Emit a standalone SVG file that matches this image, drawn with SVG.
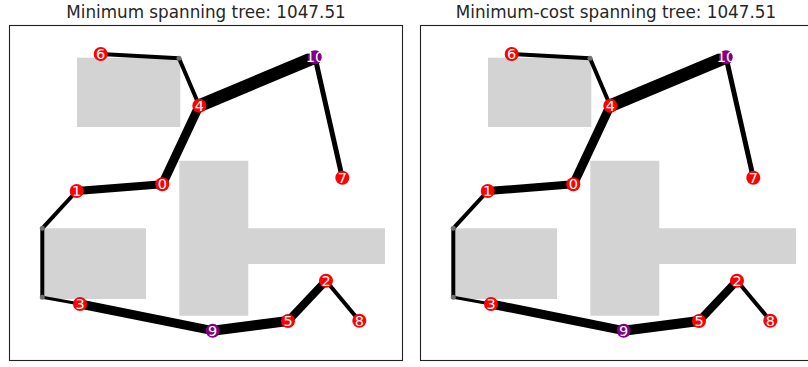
<svg xmlns="http://www.w3.org/2000/svg" width="808" height="367" viewBox="0 0 808 367">
  <style>
    .title { font-family: "DejaVu Sans", sans-serif; font-size: 16.8px; fill: #262626; text-anchor: middle; }
    .frame { fill: none; stroke: #222; stroke-width: 1.1; }
    .block { fill: #d3d3d3; stroke: none; }
    .edge { stroke: #000; fill: none; stroke-linecap: butt; }
    .node circle { stroke: none; }
    .red circle { fill: #ff0000; }
    .purple circle { fill: #800080; }
    .node text { font-family: "DejaVu Sans", sans-serif; font-size: 14.5px; fill: #fff; text-anchor: middle; dominant-baseline: central; }
    .way { fill: #707070; }
  </style>
  <defs>
    <clipPath id="clip-page"><rect x="0" y="0" width="808" height="367"/></clipPath>
  </defs>

  <!-- Left panel -->
  <g id="panel-left">
    <text class="title" x="206" y="18">Minimum spanning tree: 1047.51</text>
    <rect class="frame" x="9.5" y="25.5" width="393" height="335"/>
    <g id="obstacles-left">
      <rect class="block" x="77" y="57.7" width="103.3" height="69.3"/>
      <path class="block" d="M179.3 160.7 H248.3 V228.3 H385 V264 H248.3 V315.7 H179.3 Z"/>
      <rect class="block" x="42.3" y="228.3" width="103.7" height="70.7"/>
    </g>
    <g id="edges-left">
      <line class="edge" x1="100.7" y1="54" x2="179" y2="58.3" stroke-width="4"/>
      <line class="edge" x1="179" y1="58.3" x2="199.3" y2="105.7" stroke-width="4"/>
      <line class="edge" x1="199.3" y1="105.7" x2="315" y2="57.3" stroke-width="13"/>
      <line class="edge" x1="315" y1="57.3" x2="342.3" y2="177.7" stroke-width="5"/>
      <line class="edge" x1="199.3" y1="105.7" x2="162.3" y2="184.3" stroke-width="9"/>
      <line class="edge" x1="162.3" y1="184.3" x2="76.7" y2="191" stroke-width="8"/>
      <line class="edge" x1="76.7" y1="191" x2="42.3" y2="228.3" stroke-width="4"/>
      <line class="edge" x1="42.3" y1="228.3" x2="42.3" y2="297.3" stroke-width="4"/>
      <line class="edge" x1="42.3" y1="297.3" x2="80" y2="304" stroke-width="3"/>
      <line class="edge" x1="80" y1="304" x2="212.7" y2="330.7" stroke-width="9"/>
      <line class="edge" x1="212.7" y1="330.7" x2="288" y2="321" stroke-width="10"/>
      <line class="edge" x1="288" y1="321" x2="326" y2="280.7" stroke-width="8"/>
      <line class="edge" x1="326" y1="280.7" x2="359.3" y2="320.7" stroke-width="4"/>
    </g>
    <g id="waypoints-left">
      <circle class="way" cx="179" cy="58.3" r="2.5"/>
      <circle class="way" cx="42.3" cy="228.3" r="2.5"/>
      <circle class="way" cx="42.3" cy="297.3" r="2.5"/>
    </g>
    <g id="L-n0" class="node red"><circle cx="162.3" cy="184.3" r="7"/><text x="162.3" y="184.3">0</text></g>
    <g id="L-n1" class="node red"><circle cx="76.7" cy="191" r="7"/><text x="76.7" y="191">1</text></g>
    <g id="L-n2" class="node red"><circle cx="326" cy="280.7" r="7"/><text x="326" y="280.7">2</text></g>
    <g id="L-n3" class="node red"><circle cx="80" cy="304" r="7"/><text x="80" y="304">3</text></g>
    <g id="L-n4" class="node red"><circle cx="199.3" cy="105.7" r="7"/><text x="199.3" y="105.7">4</text></g>
    <g id="L-n5" class="node red"><circle cx="288" cy="321" r="7"/><text x="288" y="321">5</text></g>
    <g id="L-n6" class="node red"><circle cx="100.7" cy="54" r="7"/><text x="100.7" y="54">6</text></g>
    <g id="L-n7" class="node red"><circle cx="342.3" cy="177.7" r="7"/><text x="342.3" y="177.7">7</text></g>
    <g id="L-n8" class="node red"><circle cx="359.3" cy="320.7" r="7"/><text x="359.3" y="320.7">8</text></g>
    <g id="L-n9" class="node purple"><circle cx="212.7" cy="330.7" r="7"/><text x="212.7" y="330.7">9</text></g>
    <g id="L-n10" class="node purple"><circle cx="315" cy="57.3" r="7"/><text x="315" y="57.3">10</text></g>
  </g>

  <!-- Right panel -->
  <g id="panel-right" clip-path="url(#clip-page)">
    <text class="title" x="616" y="18">Minimum-cost spanning tree: 1047.51</text>
    <g transform="translate(411,0)">
      <rect class="frame" x="9.5" y="25.5" width="393" height="335"/>
      <g id="obstacles-right">
        <rect class="block" x="77" y="57.7" width="103.3" height="69.3"/>
        <path class="block" d="M179.3 160.7 H248.3 V228.3 H385 V264 H248.3 V315.7 H179.3 Z"/>
        <rect class="block" x="42.3" y="228.3" width="103.7" height="70.7"/>
      </g>
      <g id="edges-right">
        <line class="edge" x1="100.7" y1="54" x2="179" y2="58.3" stroke-width="4"/>
        <line class="edge" x1="179" y1="58.3" x2="199.3" y2="105.7" stroke-width="4"/>
        <line class="edge" x1="199.3" y1="105.7" x2="315" y2="57.3" stroke-width="13"/>
        <line class="edge" x1="315" y1="57.3" x2="342.3" y2="177.7" stroke-width="5"/>
        <line class="edge" x1="199.3" y1="105.7" x2="162.3" y2="184.3" stroke-width="9"/>
        <line class="edge" x1="162.3" y1="184.3" x2="76.7" y2="191" stroke-width="8"/>
        <line class="edge" x1="76.7" y1="191" x2="42.3" y2="228.3" stroke-width="4"/>
        <line class="edge" x1="42.3" y1="228.3" x2="42.3" y2="297.3" stroke-width="4"/>
        <line class="edge" x1="42.3" y1="297.3" x2="80" y2="304" stroke-width="3"/>
        <line class="edge" x1="80" y1="304" x2="212.7" y2="330.7" stroke-width="9"/>
        <line class="edge" x1="212.7" y1="330.7" x2="288" y2="321" stroke-width="10"/>
        <line class="edge" x1="288" y1="321" x2="326" y2="280.7" stroke-width="8"/>
        <line class="edge" x1="326" y1="280.7" x2="359.3" y2="320.7" stroke-width="4"/>
      </g>
      <g id="waypoints-right">
        <circle class="way" cx="179" cy="58.3" r="2.5"/>
        <circle class="way" cx="42.3" cy="228.3" r="2.5"/>
        <circle class="way" cx="42.3" cy="297.3" r="2.5"/>
      </g>
      <g id="R-n0" class="node red"><circle cx="162.3" cy="184.3" r="7"/><text x="162.3" y="184.3">0</text></g>
      <g id="R-n1" class="node red"><circle cx="76.7" cy="191" r="7"/><text x="76.7" y="191">1</text></g>
      <g id="R-n2" class="node red"><circle cx="326" cy="280.7" r="7"/><text x="326" y="280.7">2</text></g>
      <g id="R-n3" class="node red"><circle cx="80" cy="304" r="7"/><text x="80" y="304">3</text></g>
      <g id="R-n4" class="node red"><circle cx="199.3" cy="105.7" r="7"/><text x="199.3" y="105.7">4</text></g>
      <g id="R-n5" class="node red"><circle cx="288" cy="321" r="7"/><text x="288" y="321">5</text></g>
      <g id="R-n6" class="node red"><circle cx="100.7" cy="54" r="7"/><text x="100.7" y="54">6</text></g>
      <g id="R-n7" class="node red"><circle cx="342.3" cy="177.7" r="7"/><text x="342.3" y="177.7">7</text></g>
      <g id="R-n8" class="node red"><circle cx="359.3" cy="320.7" r="7"/><text x="359.3" y="320.7">8</text></g>
      <g id="R-n9" class="node purple"><circle cx="212.7" cy="330.7" r="7"/><text x="212.7" y="330.7">9</text></g>
      <g id="R-n10" class="node purple"><circle cx="315" cy="57.3" r="7"/><text x="315" y="57.3">10</text></g>
    </g>
  </g>
</svg>
